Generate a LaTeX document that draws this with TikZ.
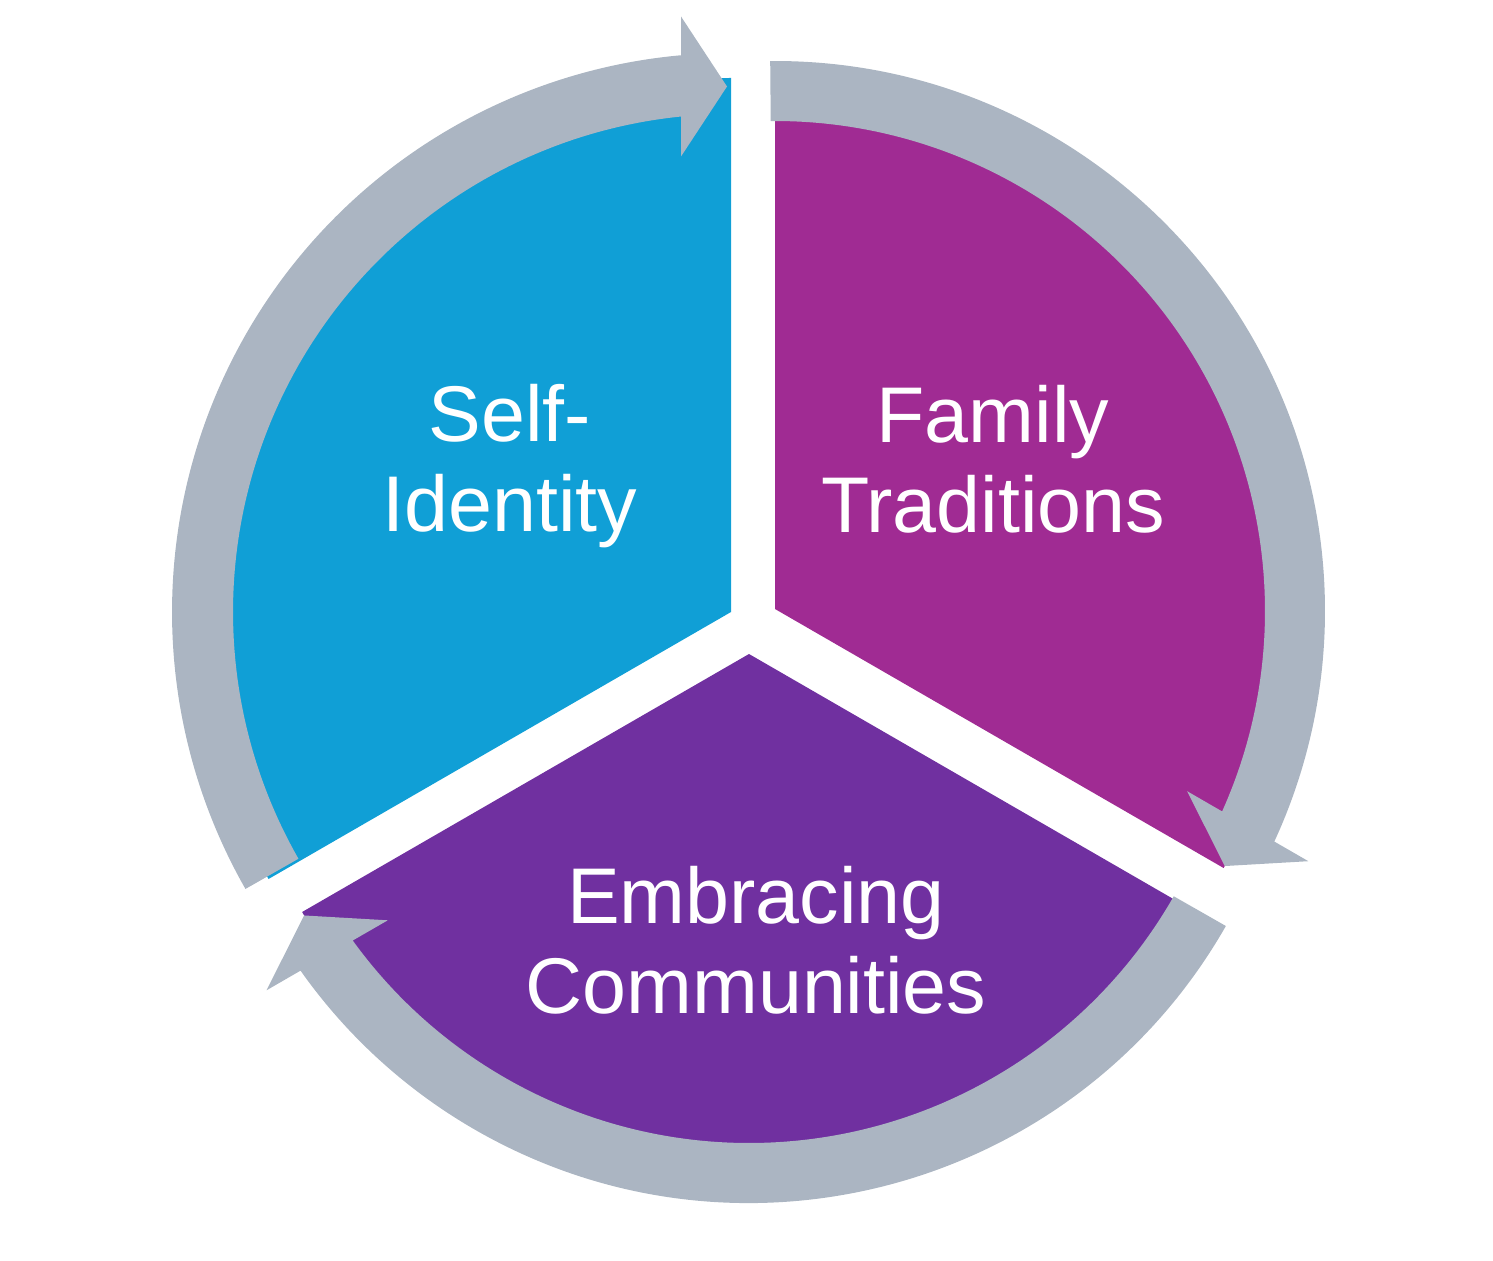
\documentclass[tikz,border=0pt]{standalone}
\usepackage{fontspec}
\setmainfont{Liberation Sans}
\definecolor{segblue}{HTML}{109FD6}
\definecolor{segmag}{HTML}{A02B93}
\definecolor{segpur}{HTML}{7030A0}
\definecolor{ringgray}{HTML}{ABB5C2}
% #1 centre, #2 rotation, #3 inner radius, #4 outer radius, #5 start angle (local)
\newcommand\ringarrow[5]{%
  \begin{scope}[shift={#1},rotate=#2]
    \fill[ring] (#5:#4) arc[start angle=#5,end angle={90+asin(50/#4)},radius=#4]
      -- (-50,{(#3+#4)/2-3+70}) -- (-4,{(#3+#4)/2-3}) -- (-50,{(#3+#4)/2-3-70})
      -- ({90+asin(50/#3)}:#3) arc[start angle={90+asin(50/#3)},end angle=#5,radius=#3]
      -- cycle;
  \end{scope}}
\begin{document}
\begin{tikzpicture}[x=0.5pt,y=0.5pt,
  ring/.style={fill=ringgray},
  lbl/.style={text=white,align=center,inner sep=0pt,
    font=\fontsize{39.5}{45}\selectfont}]
\useasboundingbox (0,0) rectangle (1493,-1261);
% segments
\fill[segblue] (731,-612) -- ++(90:534) arc[start angle=90,end angle=210,radius=534] -- cycle;
\fill[segmag] (775,-609) -- ++(-30:518) arc[start angle=-30,end angle=90,radius=518] -- cycle;
\fill[segpur] (749,-654) -- ++(210:516) arc[start angle=210,end angle=330,radius=516] -- cycle;
% circular arrows
\ringarrow{(731,-612)}{0}{498}{559}{209.7}
\ringarrow{(775,-611)}{-120}{490}{550}{210.5}
\ringarrow{(749,-654)}{120}{489}{549}{210.3}
% labels
\node[lbl] (selfid) at (510,-466) {Self-\\Identity};
\node[lbl] (family) at (993,-459) {Family\\Traditions};
\node[lbl] (embrace) at (756,-940) {Embracing\\Communities};
\end{tikzpicture}
\end{document}
